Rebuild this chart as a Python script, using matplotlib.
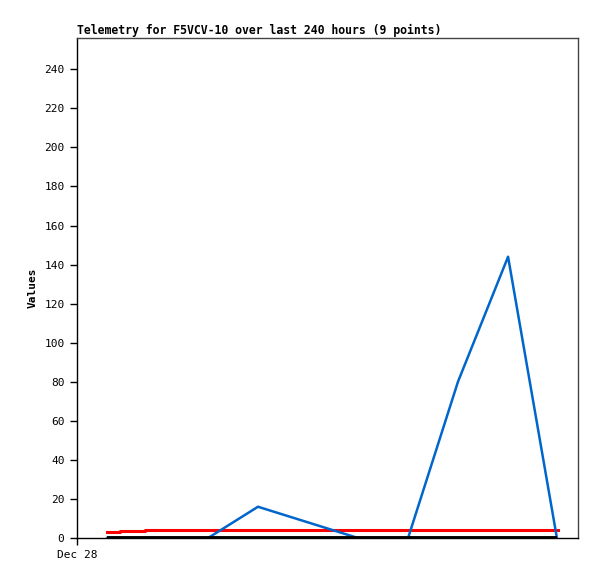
import matplotlib
matplotlib.use("Agg")
import matplotlib.pyplot as plt

# hours since Dec 28 00:00
black_hours = [14.4, 229.9]
black_vals = [0, 0]

red_hours = [14.4, 20.6, 32.6, 230.4]
red_vals = [2.9, 3.4, 3.9, 3.9]

blue_hours = [14.4, 38.8, 62.8, 86.7, 134.6, 158.6, 182.5, 206.5, 229.9]
blue_vals = [0, 0, 0, 16, 0, 0, 80, 144, 0]

yticks = list(range(0, 241, 20))

fig = plt.figure(figsize=(5.97, 5.79), dpi=100)
ax = fig.add_axes([77 / 597, 41 / 579, 501 / 597, 500 / 579])

mono = "DejaVu Sans Mono"
ax.plot(red_hours, red_vals, color="#ff0000", lw=2.2, drawstyle="steps-post", zorder=2)
ax.plot(blue_hours, blue_vals, color="#0066cc", lw=1.8, zorder=3)
ax.plot(black_hours, black_vals, color="black", lw=2.8, zorder=4, solid_capstyle="butt")

ax.set_xlim(0, 240)
ax.set_ylim(0, 256)
ax.set_yticks(yticks)
ax.set_yticklabels([str(v) for v in yticks], family=mono, fontsize=8)
ax.set_xticks([0])
ax.set_xticklabels(["Dec 28"], family=mono, fontsize=8)
ax.tick_params(axis="y", length=5, width=1, direction="out", pad=4)
ax.tick_params(axis="x", length=5, width=1, direction="out", pad=4)

for side in ("left", "bottom"):
    ax.spines[side].set_color("black")
    ax.spines[side].set_linewidth(1)
for side in ("top", "right"):
    ax.spines[side].set_color("#444444")
    ax.spines[side].set_linewidth(1)

ax.set_ylabel("Values", family=mono, fontsize=8, fontweight="bold", labelpad=5)
ax.set_title("Telemetry for F5VCV-10 over last 240 hours (9 points)",
             family=mono, fontsize=8.3, fontweight="bold", loc="left", pad=3)

fig.savefig("out.png", dpi=100)
